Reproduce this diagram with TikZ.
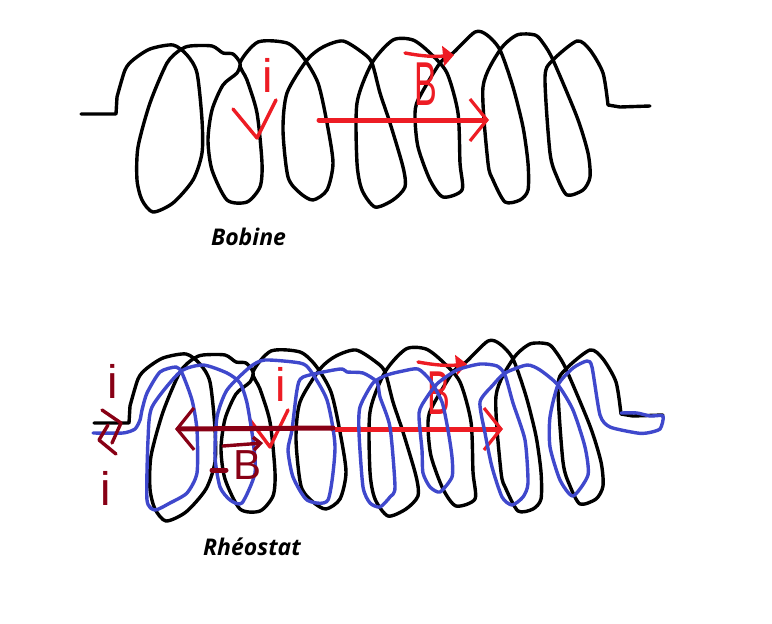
\documentclass[tikz,border=0pt]{standalone}
\usepackage{fontspec}
\setmainfont{Open Sans}
\newfontfamily\lettersfont{Liberation Sans}
\usetikzlibrary{arrows.meta}

\definecolor{markred}{RGB}{237,28,36}
\definecolor{darkmark}{RGB}{136,0,21}
\definecolor{rheoblue}{RGB}{63,72,204}

\tikzset{
  wire/.style={draw=black, line width=3.4pt, line join=round, line cap=round},
  rheo/.style={draw=rheoblue, line width=3.4pt, line join=round, line cap=round},
  redpen/.style={draw=markred, line width=3.4pt, line join=round, line cap=round},
  darkpen/.style={draw=darkmark, line width=3.4pt, line join=round, line cap=round},
  barb/.style={>={Straight Barb[length=17pt,width=42pt,line width=3.2pt]}},
  caption/.style={font=\fontsize{23}{23}\selectfont\bfseries\itshape, text=black},
  letter/.style={font=\fontsize{#1}{#1}\selectfont\lettersfont, inner sep=0pt}
}

% the coil, drawn twice
\newcommand{\coilpath}{
  (81,114) -- (116,114) -- (117,97)
  plot[smooth, tension=0.45] coordinates {(117,97) (125,70) (133,60) (150,49) (173,45) (187,55) (197,73)
    (202,120) (202,153) (193,180) (173,203) (153,212) (142,200) (137,180) (138,147) (150,103) (167,63)
    (180,50) (190,46) (212,46) (223,53) (233,54) (240,63) (237,73) (223,85) (212,110) (208,140) (212,170)
    (227,200) (247,202) (260,187) (262,163) (257,113) (247,80) (240,63) (258,42) (287,43) (303,57) (318,83)
    (327,123) (333,163) (327,190) (313,200) (300,193) (288,177) (283,130) (287,93) (307,60) (323,47)
    (343,41) (363,53) (372,63) (380,93) (390,123) (403,167) (405,187) (393,200) (375,207) (362,190)
    (357,163) (357,103) (372,63) (393,40) (413,40) (430,53) (447,73) (458,113) (460,163) (462,190)
    (443,197) (430,180) (418,147) (415,117) (418,100) (440,63) (453,53) (475,32) (487,35) (500,50)
    (513,87) (523,127) (528,163) (528,190) (520,200) (505,202) (493,180) (488,163) (483,87) (500,50)
    (517,35) (535,35) (543,43) (553,60) (577,117) (588,153) (590,177) (583,190) (567,195) (557,177)
    (550,153) (545,77) (553,60) (577,41) (590,50) (603,73) (608,105)}
  -- (620,107) -- (650,106)
}

\begin{document}
\begin{tikzpicture}[x=1pt, y=-1pt]
\useasboundingbox (0,0) rectangle (772,624);

% first coil
\draw[wire] \coilpath;

\node[letter=47, text=markred] (top_i) at (268,75) {i};
\coordinate (top_v_left) at (233,109);
\coordinate (top_v_tip) at (257,138);
\coordinate (top_v_right) at (276,100);
\draw[redpen] (top_v_left) -- (top_v_tip) -- (top_v_right);

\coordinate (top_field_start) at (319,120);
\coordinate (top_field_end) at (489,120);
\draw[->, barb, redpen, line width=5pt] (top_field_start) -- (top_field_end);

\node[letter=62, text=markred, xscale=0.55] (top_b) at (426,84) {B};
\coordinate (top_vec_start) at (405,53);
\coordinate (top_vec_end) at (454,55);
\draw[-{Triangle[length=11pt,width=20pt]}, redpen] (top_vec_start) to[bend right=8] (top_vec_end);

\node[caption] (bobine) at (248.5,237) {Bobine};

% second coil
\begin{scope}[shift={(13,309)}]
\draw[wire] \coilpath;
\end{scope}

\node[letter=47, text=markred] (low_i) at (281,384) {i};
\coordinate (low_v_left) at (250,420);
\coordinate (low_v_tip) at (270,447);
\coordinate (low_v_right) at (288,410);
\draw[redpen] (low_v_left) -- (low_v_tip) -- (low_v_right);

\coordinate (low_field_start) at (333,429);
\coordinate (low_field_end) at (503,429);
\draw[->, barb, redpen, line width=5pt] (low_field_start) -- (low_field_end);

\node[letter=62, text=markred, xscale=0.55] (low_b) at (439,393) {B};
\coordinate (low_vec_start) at (418,362);
\coordinate (low_vec_end) at (467,364);
\draw[-{Triangle[length=11pt,width=20pt]}, redpen] (low_vec_start) to[bend right=8] (low_vec_end);

% rheostat wire
\draw[rheo] plot[smooth, tension=0.4] coordinates {(93,433) (123,433) (135,429) (140,420) (142,410) (147,393)
  (160,372) (176,367) (182,373) (192,400) (197,430) (197,473) (187,493) (170,503) (155,510) (147,500)
  (148,440) (152,407) (180,372) (203,365) (227,373) (240,383) (247,403) (253,440) (255,473) (242,503)
  (230,500) (220,487) (215,457) (217,417) (227,390) (250,367) (265,360) (300,363) (310,370) (327,400)
  (335,447) (328,500) (307,500) (293,477) (288,450) (292,430) (297,390) (303,377) (340,369) (347,372)
  (363,373) (377,382) (380,397) (390,427) (395,487) (390,497) (380,507) (370,503) (363,487) (359,433)
  (360,407) (373,383) (387,375) (403,371) (418,369) (430,380) (442,402) (448,430) (452,457) (452,477)
  (440,492) (430,487) (423,473) (422,450) (419,413) (427,397) (438,383) (457,370) (480,364) (497,366)
  (505,375) (513,403) (525,440) (528,483) (523,497) (512,505) (502,497) (492,467) (485,433) (480,402)
  (493,385) (505,373) (527,365) (540,370) (558,385) (573,410) (585,447) (588,475) (573,496) (560,480)
  (550,447) (550,417) (558,385) (573,368) (587,361) (592,367) (600,415) (610,427) (637,433) (647,433)
  (660,429) (663,416) (650,416) (637,413) (621,413)};

% dark marks of the rheostat
\node[letter=47, text=darkmark] (left_i) at (113,381) {i};
\node[letter=47, text=darkmark] (under_i) at (106,488) {i};
\coordinate (in_head_a) at (102,410);
\coordinate (in_head_tip) at (121,423);
\coordinate (in_head_b) at (112,443);
\draw[darkpen] (in_head_a) -- (in_head_tip) -- (in_head_b);
\coordinate (out_head_a) at (108,425);
\coordinate (out_head_tip) at (99,440);
\coordinate (out_head_b) at (116,454);
\draw[darkpen] (out_head_a) -- (out_head_tip) -- (out_head_b);

\coordinate (back_field_start) at (333,428);
\coordinate (back_field_end) at (175,429);
\draw[->, barb, darkpen, line width=5pt] (back_field_start) -- (back_field_end);

\node[letter=42, text=darkmark] (back_b) at (248,465) {B};
\coordinate (back_vec_start) at (223,446);
\coordinate (back_vec_end) at (263,443);
\draw[-{Straight Barb[length=7pt,width=13pt]}, darkpen] (back_vec_start) -- (back_vec_end);
\coordinate (dash_left) at (212,470);
\coordinate (dash_right) at (226,470);
\draw[darkpen, line width=5pt] (dash_left) -- (dash_right);

\node[caption] (rheostat) at (252,546.5) {Rhéostat};

\end{tikzpicture}
\end{document}
